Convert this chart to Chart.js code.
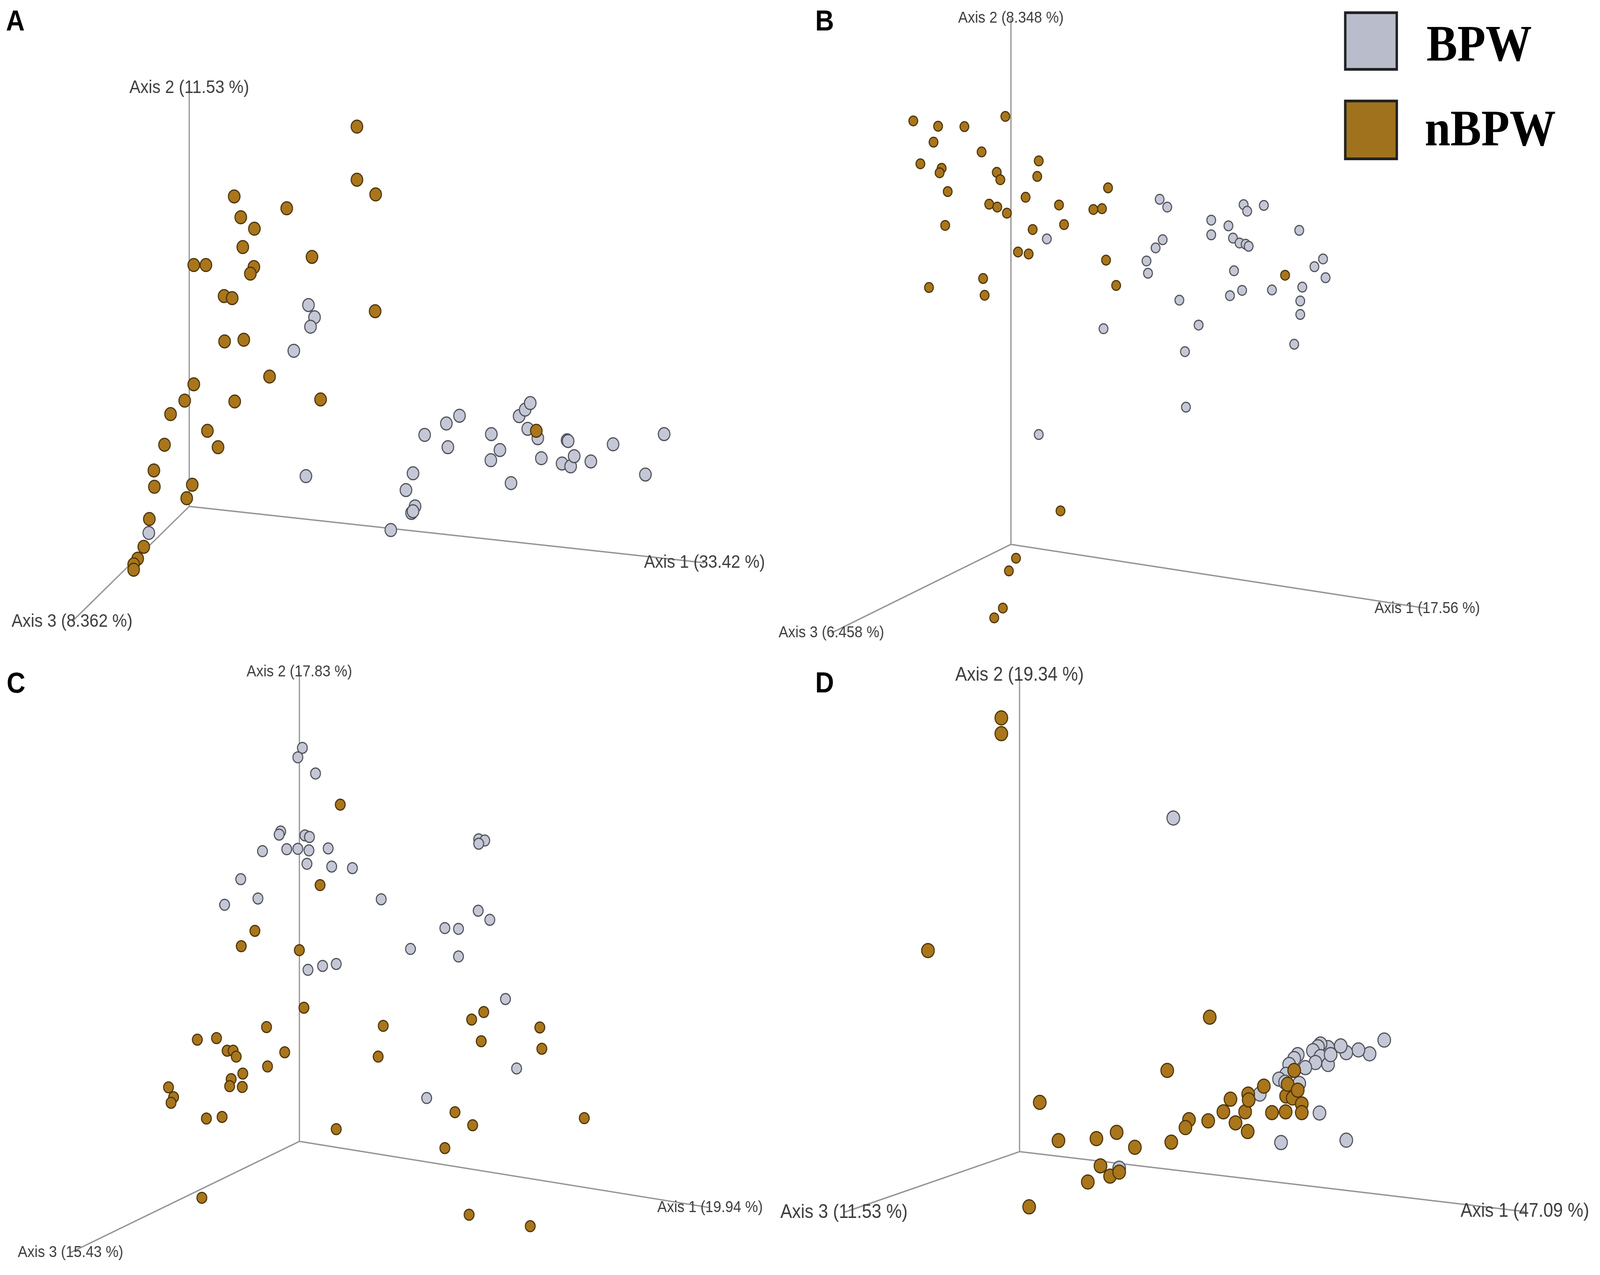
<!DOCTYPE html>
<html>
<head>
<meta charset="utf-8">
<script src="https://cdn.jsdelivr.net/npm/chart.js@4.4.1/dist/chart.umd.min.js"></script>
<style>
html,body{margin:0;padding:0;background:#fff;overflow:hidden;}
#stage{position:absolute;left:0;top:0;width:4563px;height:3263px;transform-origin:0 0;background:#fff;}
#wrap{position:absolute;left:0;top:0;width:4563px;height:3263px;}
.letter{position:absolute;font:bold 74px "Liberation Sans",Arial,sans-serif;line-height:74px;color:#000;}
.sw{position:absolute;box-sizing:border-box;border:7px solid #222;}
.lt{position:absolute;font:bold 132px "Liberation Serif","Times New Roman",serif;line-height:132px;color:#000;white-space:nowrap;}
</style>
</head>
<body>
<div id="stage">
<div id="wrap"><canvas id="c" width="4563" height="3263"></canvas></div>
<div class="letter" style="left:17px;top:16px">A</div>
<div class="letter" style="left:2325px;top:16px">B</div>
<div class="letter" style="left:19px;top:1711px">C</div>
<div class="letter" style="left:2325px;top:1710px">D</div>
<div class="sw" style="left:3833px;top:29px;width:154px;height:152px;background:#b8bccb"></div>
<div class="sw" style="left:3833px;top:255px;width:154px;height:155px;background:#a0721e"></div>
<div class="lt" id="l1" style="left:4068px;top:45px"></div>
<div class="lt" id="l2" style="left:4063px;top:262px"></div>
</div>
<script>
// ---- data (projected PCoA coordinates, origin of the axes = 0,0) ----
const GROUPS = ['BPW', 'nBPW'];

const A_LABELS = ['Axis 1 (33.42 %)', 'Axis 2 (11.53 %)', 'Axis 3 (8.362 %)'];
const B_LABELS = ['Axis 1 (17.56 %)', 'Axis 2 (8.348 %)', 'Axis 3 (6.458 %)'];
const C_LABELS = ['Axis 1 (19.94 %)', 'Axis 2 (17.83 %)', 'Axis 3 (15.43 %)'];
const D_LABELS = ['Axis 1 (47.09 %)', 'Axis 2 (19.34 %)', 'Axis 3 (11.53 %)'];

const A_AXES = [[1020,-138],[0,1025],[-232,-282]];
const B_AXES = [[823,-157],[0,1288],[-355,-217]];
const C_AXES = [[813,-168],[0,1190],[-453,-282]];
const D_AXES = [[999,-152],[0,1208],[-347,-154]];

const A_BPW = [[236,493],[248,463],[240,440],[207,381],[231,74],[466,175],[509,203],[535,222],[512,145],[598,177],[615,138],[597,113],[653,221],[665,237],[675,253],[670,190],[690,167],[697,118],[748,162],[750,160],[738,105],[755,98],[762,123],[795,110],[839,152],[940,177],[903,78],[637,57],[443,81],[429,40],[447,0],[440,-16],[443,-12],[399,-58],[-80,-65]];
const A_nBPW = [[332,930],[332,800],[369,764],[89,759],[193,730],[102,708],[129,680],[106,635],[243,611],[9,591],[33,591],[128,586],[121,570],[69,515],[85,510],[368,478],[70,404],[108,408],[159,318],[9,299],[-9,259],[90,257],[260,262],[-37,226],[36,185],[57,145],[-49,151],[-70,88],[-69,48],[6,53],[-5,20],[-79,-31],[-90,-99],[-102,-128],[-110,-142],[-110,-155],[687,185]];

const B_BPW = [[294,845],[309,826],[71,748],[300,746],[286,726],[268,694],[271,664],[396,794],[396,758],[430,780],[439,750],[452,738],[464,735],[470,730],[460,832],[467,816],[500,830],[570,769],[441,670],[433,609],[457,622],[516,623],[600,680],[617,699],[622,653],[576,630],[572,596],[572,563],[560,490],[333,598],[371,537],[344,472],[346,336],[183,528],[55,269]];
const B_nBPW = [[-193,1037],[-144,1024],[-92,1023],[-11,1048],[-153,985],[-58,961],[-179,932],[-137,921],[-141,910],[-28,911],[-21,893],[55,939],[52,901],[-125,864],[29,850],[-43,833],[-27,826],[-8,811],[95,831],[163,820],[180,822],[192,873],[-130,781],[43,771],[105,783],[14,716],[35,711],[188,696],[208,634],[-55,651],[-162,629],[-52,610],[542,659],[98,82],[10,-34],[-4,-65],[-16,-156],[-33,-180]];

const C_BPW = [[6,998],[-3,974],[32,933],[-37,786],[-40,778],[11,776],[20,772],[-73,736],[-25,741],[-3,742],[19,738],[57,743],[15,704],[64,697],[105,693],[-116,665],[-82,616],[-148,600],[162,614],[17,435],[46,445],[73,450],[220,488],[355,766],[367,763],[355,755],[354,585],[377,562],[288,541],[315,539],[315,469],[408,361],[430,185],[252,110]];
const C_nBPW = [[81,854],[41,650],[-88,534],[-115,495],[0,485],[9,339],[-65,290],[-202,258],[-164,262],[-143,230],[-131,230],[-125,215],[-29,226],[-63,190],[-112,172],[-135,158],[-138,140],[-113,138],[-259,137],[-249,112],[-254,98],[-184,58],[-153,62],[166,293],[156,215],[73,31],[341,309],[365,328],[476,289],[360,254],[480,235],[308,74],[343,41],[564,59],[288,-17],[-193,-143],[336,-186],[457,-215]];

const D_BPW = [[304,846],[721,283],[692,248],[670,258],[646,251],[635,268],[610,264],[595,273],[590,266],[580,256],[595,241],[610,221],[585,226],[565,213],[550,246],[543,236],[533,221],[527,196],[513,184],[553,173],[475,146],[593,98],[517,23],[646,29],[197,-42],[525,176],[615,246]];
const D_nBPW = [[-36,1100],[-36,1060],[-181,510],[376,341],[292,206],[40,125],[77,28],[152,33],[192,49],[228,11],[300,24],[160,-36],[179,-62],[197,-52],[135,-77],[19,-140],[335,81],[328,61],[373,78],[403,101],[417,133],[427,73],[446,101],[451,51],[452,146],[453,131],[483,166],[499,99],[526,101],[527,141],[540,136],[530,171],[550,156],[558,121],[558,99],[543,206]];

// ---- layout / style ----
const W = 4563, H = 3263, ZOOM = 1568;
const LAYOUT = {
  A: {ox: 0,    oy: 0,    w: 2280, h: 1660, zox: 360, zoy: 1220, r: 16.5, font: 47},
  B: {ox: 2280, oy: 0,    w: 2283, h: 1660, zox: 418, zoy: 1313, r: 12.5, font: 41},
  C: {ox: 0,    oy: 1660, w: 2280, h: 1603, zox: 578, zoy: 1250, r: 14,   font: 41},
  D: {ox: 2280, oy: 1660, w: 2283, h: 1603, zox: 435, zoy: 1276, r: 18,   font: 50}
};
const PANEL_DATA = {
  A: {bpw: A_BPW, nbpw: A_nBPW, axes: A_AXES, labels: A_LABELS},
  B: {bpw: B_BPW, nbpw: B_nBPW, axes: B_AXES, labels: B_LABELS},
  C: {bpw: C_BPW, nbpw: C_nBPW, axes: C_AXES, labels: C_LABELS},
  D: {bpw: D_BPW, nbpw: D_nBPW, axes: D_AXES, labels: D_LABELS}
};
const COL = {
  bpwFill: '#c4c8d6', bpwBorder: '#4e4e55',
  nbpwFill: '#a9761c', nbpwBorder: '#4a3208',
  axis: '#949494', label: '#3c3c3c'
};

// fit the 4563x3263 figure into whatever CSS viewport the browser gives
const stage = document.getElementById('stage');
const vw = window.innerWidth || W, vh = window.innerHeight || H;
stage.style.transform = 'scale(' + (vw / W) + ',' + (vh / H) + ')';

document.getElementById('l1').textContent = GROUPS[0];
document.getElementById('l2').textContent = GROUPS[1];

const toXY = arr => arr.map(p => ({x: p[0], y: p[1]}));
const datasets = [];
const scales = {};
for (const key of Object.keys(LAYOUT)) {
  const L = LAYOUT[key], P = PANEL_DATA[key];
  const fx = L.w / ZOOM, fy = L.h / ZOOM;
  scales['x' + key] = {type: 'linear', display: false,
    min: -L.ox / fx - L.zox, max: (W - L.ox) / fx - L.zox};
  scales['y' + key] = {type: 'linear', display: false,
    min: L.zoy - (H - L.oy) / fy, max: L.zoy + L.oy / fy};
  P.axes.forEach((e, i) => {
    datasets.push({type: 'line', label: key + ' ' + P.labels[i],
      data: [{x: 0, y: 0}, {x: e[0], y: e[1]}],
      xAxisID: 'x' + key, yAxisID: 'y' + key,
      borderColor: COL.axis, borderWidth: 3.5, pointRadius: 0, fill: false, order: 3});
  });
  datasets.push({type: 'scatter', label: GROUPS[0], data: toXY(P.bpw),
    xAxisID: 'x' + key, yAxisID: 'y' + key,
    backgroundColor: COL.bpwFill, borderColor: COL.bpwBorder,
    pointRadius: L.r, pointBorderWidth: 3, pointStyle: 'circle', order: 2});
  datasets.push({type: 'scatter', label: GROUPS[1], data: toXY(P.nbpw),
    xAxisID: 'x' + key, yAxisID: 'y' + key,
    backgroundColor: COL.nbpwFill, borderColor: COL.nbpwBorder,
    pointRadius: L.r, pointBorderWidth: 3, pointStyle: 'circle', order: 1});
}

const axisLabels = {
  id: 'axisLabels',
  afterDatasetsDraw(chart) {
    const ctx = chart.ctx;
    ctx.save();
    ctx.fillStyle = COL.label;
    ctx.textAlign = 'center';
    ctx.textBaseline = 'middle';
    for (const key of Object.keys(LAYOUT)) {
      const xs = chart.scales['x' + key], ys = chart.scales['y' + key];
      const P = PANEL_DATA[key];
      ctx.font = LAYOUT[key].font + 'px "Liberation Sans", Arial, sans-serif';
      P.axes.forEach((e, i) => {
        ctx.fillText(P.labels[i], xs.getPixelForValue(e[0]), ys.getPixelForValue(e[1]));
      });
    }
    ctx.restore();
  }
};

new Chart(document.getElementById('c'), {
  type: 'scatter',
  data: {datasets},
  options: {
    responsive: false, maintainAspectRatio: false, animation: false,
    devicePixelRatio: 1, events: [],
    layout: {padding: 0},
    scales,
    plugins: {legend: {display: false}, tooltip: {enabled: false}},
    elements: {line: {tension: 0}}
  },
  plugins: [axisLabels]
});
</script>
</body>
</html>
